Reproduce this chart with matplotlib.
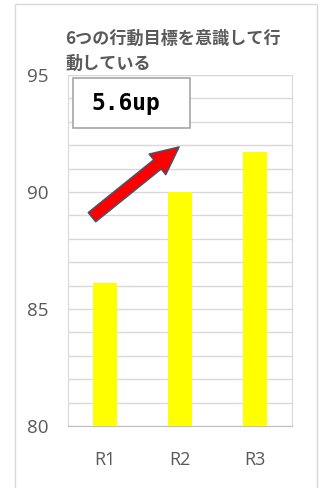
import matplotlib
matplotlib.use("Agg")
import matplotlib.pyplot as plt
from matplotlib.patches import Rectangle, FancyArrowPatch

# データ
rounds = ['R1', 'R2', 'R3']
scores = [86.1, 90.0, 91.7]
y_ticks = [80, 85, 90, 95]
title = '6つの行動目標を意識して行\n動している'
note = '5.6up'

gray = '#595959'
grid = '#d9d9d9'

fig = plt.figure(figsize=(3.26, 4.88), dpi=100)
ax = fig.add_axes([68 / 326, 62 / 488, 224 / 326, 351 / 488])

x = range(len(rounds))
ax.bar(x, scores, width=0.32, color='#ffff00', zorder=3)

ax.set_xlim(-0.5, 2.5)
ax.set_ylim(80, 95)
ax.set_xticks(list(x))
ax.set_xticklabels(rounds)
ax.set_yticks(y_ticks)
ax.set_yticks(range(80, 96), minor=True)
ax.grid(True, which='both', axis='y', color=grid, lw=1, zorder=0)
ax.tick_params(axis='both', which='both', length=0)
ax.tick_params(axis='y', pad=14, labelsize=13.5, labelcolor=gray)
ax.tick_params(axis='x', pad=18, labelsize=13, labelcolor=gray)
for lab in ax.get_xticklabels() + ax.get_yticklabels():
    lab.set_family('Open Sans')

ax.spines['top'].set_visible(False)
ax.spines['left'].set_color(grid)
ax.spines['right'].set_color(grid)
ax.spines['right'].set_linestyle((0, (2, 1)))
ax.spines['bottom'].set_color('#bfbfbf')

# 5.6up の箱
ax.add_patch(Rectangle((0.022, 0.849), 0.523, 0.142, transform=ax.transAxes,
                       facecolor='white', edgecolor='#a6a6a6', lw=1.2, zorder=4))
ax.text(0.256, 0.918, note, transform=ax.transAxes, ha='center', va='center',
        fontsize=16.5, fontweight='bold', family='DejaVu Sans Mono',
        color='black', zorder=5)

# 矢印
arrow = FancyArrowPatch((0.107, 0.595), (0.496, 0.795), transform=ax.transAxes,
                        arrowstyle='simple,head_length=2.0,head_width=1.9,tail_width=0.85',
                        mutation_scale=10, facecolor='#ff0000', edgecolor='#44546a',
                        lw=1.1, shrinkA=0, shrinkB=0, zorder=5)
ax.add_patch(arrow)

# タイトル
fig.text(65 / 326, 1 - 30 / 488, title, ha='left', va='top', fontsize=12.3,
         fontweight='bold', color=gray, linespacing=1.5,
         family=['Noto Sans CJK JP', 'DejaVu Sans'])

# 外枠
fig.patches.append(Rectangle((15 / 326, -0.05), 302 / 326, 1.05 - 4 / 488,
                             transform=fig.transFigure, fill=False,
                             edgecolor='#d9d9d9', lw=1))

fig.savefig('out.png', dpi=100)
